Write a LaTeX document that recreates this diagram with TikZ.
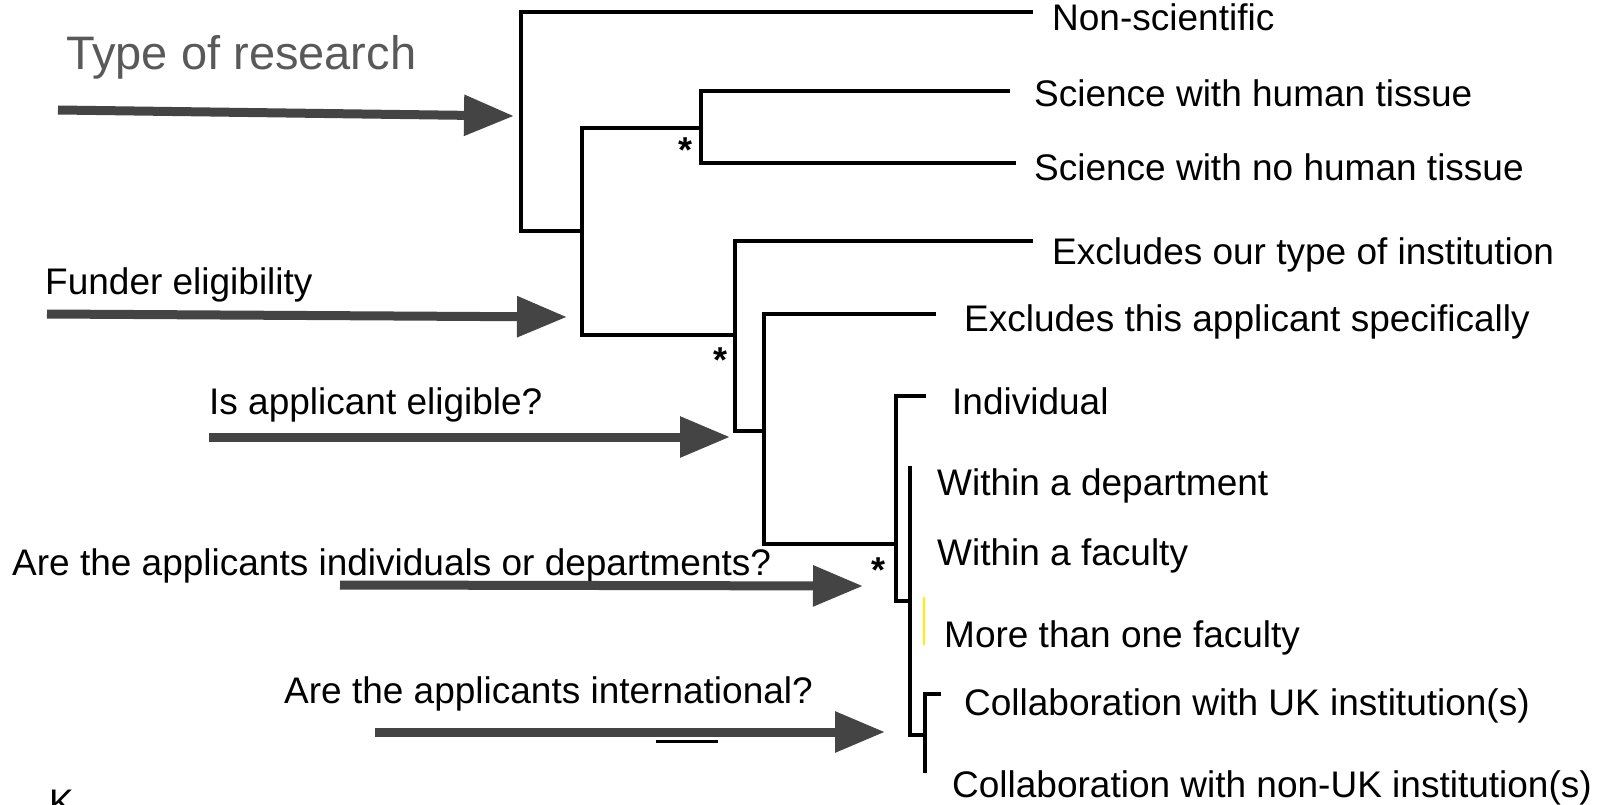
\documentclass[tikz,border=0pt]{standalone}
\usepackage{fontspec}
\setmainfont{Liberation Sans}
\usetikzlibrary{arrows.meta}
\definecolor{arrowgray}{HTML}{444444}
\definecolor{titlegray}{HTML}{595959}
\begin{document}
\begin{tikzpicture}[x=1pt,y=-1pt,
  branch/.style={line width=4.8pt, line join=miter, line cap=rect, black},
  bigarrow/.style={line width=9pt, arrowgray, -{Triangle[length=50pt,width=39pt]}},
  lbl/.style={anchor=base west, inner sep=0pt, font=\fontsize{37}{44}\selectfont},
  star/.style={inner sep=0pt, font=\fontsize{36}{40}\selectfont\bfseries}]
\useasboundingbox[fill=white] (0,0) rectangle (1601,805);
% tree coordinates
\coordinate (r1) at (521,12);   \coordinate (r2) at (521,231);
\coordinate (a1) at (582,128);  \coordinate (a2) at (582,335);
\coordinate (b1) at (701,91);   \coordinate (b2) at (701,163);
\coordinate (c1) at (735,241);  \coordinate (c2) at (735,431);
\coordinate (d1) at (764,314);  \coordinate (d2) at (764,544);
\coordinate (e1) at (896,396);  \coordinate (e2) at (896,601);
\coordinate (f1) at (910,468);  \coordinate (f2) at (910,735);
\coordinate (g1) at (925,694);  \coordinate (g2) at (925,771);
\coordinate (t1) at (1031,12);
\coordinate (t2) at (1008,91);
\coordinate (t3) at (1014,163);
\coordinate (t4) at (1031,241);
\coordinate (t5) at (934,314);
\coordinate (t6) at (924,396);
\coordinate (t7) at (939,694);
% tree
\draw[branch] (t1) -- (r1) -- (r2) -- (r2 -| a1);
\draw[branch] (a1 -| b1) -- (a1) -- (a2) -- (a2 -| c1);
\draw[branch] (t2) -- (b1) -- (b2) -- (t3);
\draw[branch] (t4) -- (c1) -- (c2) -- (c2 -| d1);
\draw[branch] (t5) -- (d1) -- (d2) -- (d2 -| e1);
\draw[branch] (t6) -- (e1) -- (e2) -- (e2 -| f1);
\draw[branch] (f1) -- (f2) -- (f2 -| g1);
\draw[branch] (t7) -- (g1) -- (g2);
\draw[yellow, line width=1.5pt] (924,597) -- (924,645);
% asterisks
\node[star] (s1) at (685,150) {*};
\node[star] (s2) at (720,360) {*};
\node[star] (s3) at (878,570) {*};
% leaf labels
\node[lbl] (l1) at (1052,31) {Non-scientific};
\node[lbl] (l2) at (1034,107) {Science with human tissue};
\node[lbl] (l3) at (1034,181) {Science with no human tissue};
\node[lbl] (l4) at (1052,264) {Excludes our type of institution};
\node[lbl] (l5) at (964,331) {Excludes this applicant specifically};
\node[lbl] (l6) at (952,414) {Individual};
\node[lbl] (l7) at (937,495) {Within a department};
\node[lbl] (l8) at (937,565) {Within a faculty};
\node[lbl] (l9) at (944,647) {More than one faculty};
\node[lbl] (l10) at (964,715) {Collaboration with UK institution(s)};
\node[lbl] (l11) at (952,797) {Collaboration with non-UK institution(s)};
% questions
\node[anchor=base west, inner sep=0pt, text=titlegray, font=\fontsize{47}{56}\selectfont] (q1) at (66,70) {Type of research};
\node[lbl] (q2) at (45,294) {Funder eligibility};
\node[lbl] (q3) at (209,414) {Is applicant eligible?};
\node[lbl] (q4) at (12,575) {Are the applicants individuals or departments?};
\node[lbl] (q5) at (284,703) {Are the applicants international?};
\node[lbl] (k) at (49,815) {K};
% arrows
\coordinate (p1) at (58,110);  \coordinate (h1) at (514,116);
\coordinate (p2) at (47,314);  \coordinate (h2) at (567,317);
\coordinate (p3) at (209,437); \coordinate (h3) at (730,437);
\coordinate (p4) at (340,585); \coordinate (h4) at (863,586);
\coordinate (p5) at (375,732); \coordinate (h5) at (885,732);
\draw[bigarrow] (p1) -- (h1);
\draw[bigarrow] (p2) -- (h2);
\draw[bigarrow] (p3) -- (h3);
\draw[bigarrow] (p4) -- (h4);
\draw[bigarrow] (p5) -- (h5);
\coordinate (u1) at (656,741); \coordinate (u2) at (718,741);
\draw[line width=3pt] (u1) -- (u2);
\end{tikzpicture}
\end{document}
